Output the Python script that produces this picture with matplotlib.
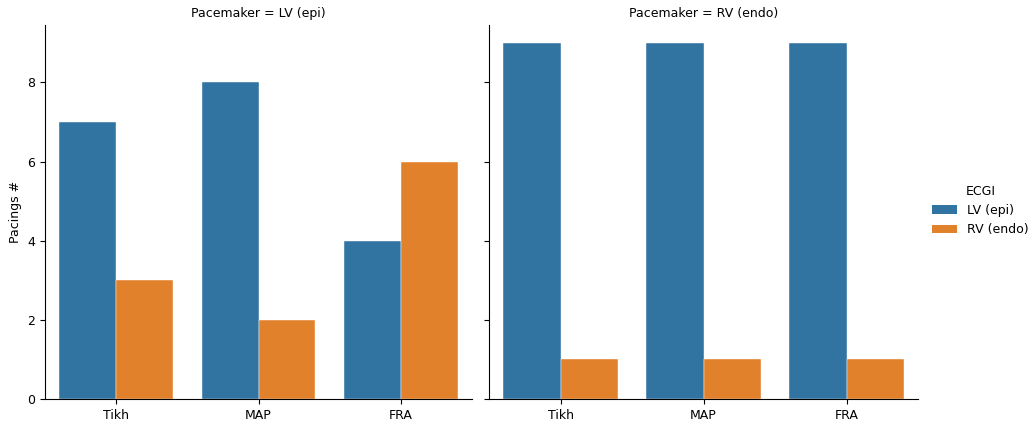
import matplotlib
matplotlib.use("Agg")
import matplotlib.pyplot as plt
import numpy as np
from matplotlib.patches import Patch

methods = ["Tikh", "MAP", "FRA"]
pacemakers = ["LV (epi)", "RV (endo)"]
ecgi_labels = ["LV (epi)", "RV (endo)"]
# counts[pacemaker][ecgi] per method
lv_pace_lv = [7, 8, 4]
lv_pace_rv = [3, 2, 6]
rv_pace_lv = [9, 9, 9]
rv_pace_rv = [1, 1, 1]
counts = [[lv_pace_lv, lv_pace_rv], [rv_pace_lv, rv_pace_rv]]
colors = ["#3274a1", "#e1812c"]

plt.rcParams["font.size"] = 9

fig = plt.figure(figsize=(10.29, 4.21), dpi=100)
ax1 = fig.add_axes([45 / 1029, 22 / 421, 427 / 1029, 374 / 421])
ax2 = fig.add_axes([489 / 1029, 22 / 421, 429 / 1029, 374 / 421], sharey=ax1)

x = np.arange(len(methods))
w = 0.4
for ax, pm, series in zip([ax1, ax2], pacemakers, counts):
    for i, vals in enumerate(series):
        ax.bar(x - 0.2 + i * w, vals, width=w, align="center", color=colors[i],
               edgecolor="white", linewidth=0.3)
    ax.set_xticks(x)
    ax.set_xticklabels(methods)
    ax.set_xlim(-0.5, 2.5)
    ax.set_title(f"Pacemaker = {pm}", fontsize=9)
    ax.spines["top"].set_visible(False)
    ax.spines["right"].set_visible(False)

ax1.set_ylim(0, 9.45)
ax1.set_yticks([0, 2, 4, 6, 8])
ax1.set_ylabel("Pacings #")
plt.setp(ax2.get_yticklabels(), visible=False)

handles = [Patch(facecolor=c, label=l) for c, l in zip(colors, ecgi_labels)]
fig.legend(handles=handles, title="ECGI", loc="center left",
           bbox_to_anchor=(921 / 1029, 0.5), frameon=False, fontsize=9,
           title_fontsize=9)

fig.savefig("out.png", dpi=100)
